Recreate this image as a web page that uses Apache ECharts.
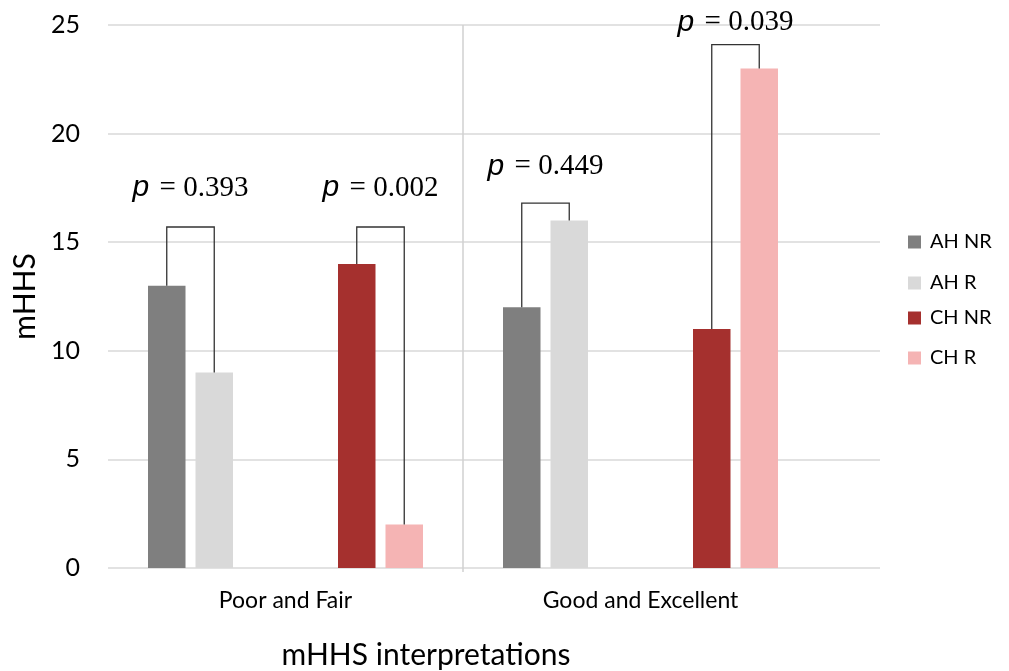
<!DOCTYPE html>
<html>
<head>
<meta charset="utf-8">
<script src="https://cdn.jsdelivr.net/npm/echarts@6/dist/echarts.min.js"></script>
<style>html,body{margin:0;padding:0;background:#fff;}#chart{width:1009px;height:671px;}</style>
</head>
<body>
<div id="chart"></div>
<script>
// ---- data ----
const categories = ['Poor and Fair', 'Good and Excellent'];
const seriesNames = ['AH NR', 'AH R', 'CH NR', 'CH R'];
const ahNR = [13, 12];
const ahR = [9, 16];
const chNR = [14, 11];
const chR = [2, 23];
const yMin = 0, yMax = 25, yInterval = 5;
const pValues = ['0.393', '0.002', '0.449', '0.039'];
const bracketCats = [0, 0, 1, 1];
const bracketTops = [15.7, 15.7, 16.8, 24.1];
const pLabelLevels = [17.5, 17.5, 18.5, 25.1];
const bracketLeft = [0, 2, 0, 2];   // series index
const bracketRight = [1, 3, 1, 3];

// ---- layout / style ----
const colors = ['#7f7f7f', '#d9d9d9', '#a5302e', '#f5b4b4'];
const BAR_W = 37.5, GAP = 10, STEP = BAR_W + GAP;
const slotOf = [0, 1, 4, 5]; // positions among 6 slots (2 empty slots in the middle)
const values = [ahNR, ahR, chNR, chR];
const FONT = 'Lato, "Open Sans", sans-serif';

const chart = echarts.init(document.getElementById('chart'));

const barSeries = [];
const order = [0, 1, null, null, 2, 3];
order.forEach((s, k) => {
  if (s === null) {
    barSeries.push({ type: 'bar', name: '_gap' + k, xAxisIndex: 1, yAxisIndex: 1,
      data: categories.map(() => '-'), barWidth: BAR_W, barGap: (GAP / BAR_W * 100) + '%', silent: true });
  } else {
    barSeries.push({ type: 'bar', name: seriesNames[s], xAxisIndex: 1, yAxisIndex: 1,
      data: values[s], barWidth: BAR_W, barGap: (GAP / BAR_W * 100) + '%',
      itemStyle: { color: colors[s] } });
  }
});

const bracketData = pValues.map((p, i) => {
  const c = bracketCats[i];
  return [c, bracketTops[i], values[bracketLeft[i]][c], values[bracketRight[i]][c],
          slotOf[bracketLeft[i]], slotOf[bracketRight[i]], pLabelLevels[i]];
});

const legendTops = [227, 268, 303, 343];
const legends = seriesNames.map((n, i) => ({
  data: [n], left: 903, top: legendTops[i], orient: 'vertical',
  icon: 'rect', itemWidth: 13, itemHeight: 13, itemGap: 8,
  textStyle: { fontSize: 20, color: '#000', fontFamily: FONT, padding: [0, 0, 0, 4] }, selectedMode: false
}));

chart.setOption({
  animation: false,
  legend: legends,
  grid: [
    { left: 108, right: 129, top: 25, bottom: 103, outerBoundsMode: 'none', containLabel: false },
    { left: 108, width: 710, top: 25, bottom: 103, outerBoundsMode: 'none', containLabel: false }
  ],
  xAxis: [
    { gridIndex: 0, type: 'value', show: false, min: 0, max: 1 },
    { gridIndex: 1, type: 'category', data: categories,
      axisLine: { show: false }, axisTick: { show: false }, splitLine: { show: false },
      axisLabel: { fontSize: 23, color: '#000', margin: 21, fontFamily: FONT },
      name: 'mHHS interpretations', nameLocation: 'middle', nameGap: 72,
      nameTextStyle: { fontSize: 30, color: '#000', fontFamily: FONT, padding: [0, 74, 0, 0] } }
  ],
  yAxis: [
    { gridIndex: 0, type: 'value', min: yMin, max: yMax, interval: yInterval,
      axisLine: { show: false }, axisTick: { show: false },
      splitLine: { lineStyle: { color: '#d9d9d9', width: 1.5 } },
      axisLabel: { fontSize: 25, color: '#000', margin: 28, fontFamily: FONT },
      name: 'mHHS', nameLocation: 'middle', nameGap: 66,
      nameTextStyle: { fontSize: 30, color: '#000', fontFamily: FONT } },
    { gridIndex: 1, type: 'value', min: yMin, max: yMax, interval: yInterval, show: false,
      splitLine: { show: false } }
  ],
  series: barSeries.concat([
    {
      type: 'custom', name: 'separator', xAxisIndex: 1, yAxisIndex: 1, silent: true, clip: false,
      data: [[0]],
      renderItem: function (params, api) {
        const c = api.coord([0, 0]);
        const half = api.size([1, 0])[0] / 2;
        const x = c[0] + half;
        return { type: 'line', shape: { x1: x, y1: params.coordSys.y, x2: x, y2: c[1] + 4 },
          style: { stroke: '#d0d0d0', lineWidth: 1.5 } };
      }
    },
    {
      type: 'custom', name: 'brackets', xAxisIndex: 1, yAxisIndex: 1, silent: true, clip: false, z: 5,
      data: bracketData,
      renderItem: function (params, api) {
        const cat = api.value(0);
        const center = api.coord([cat, 0]);
        const xl = center[0] + (api.value(4) - 2.5) * STEP;
        const xr = center[0] + (api.value(5) - 2.5) * STEP;
        const yTop = api.coord([cat, api.value(1)])[1];
        const yl = api.coord([cat, api.value(2)])[1];
        const yr = api.coord([cat, api.value(3)])[1];
        const yLab = api.coord([cat, api.value(6)])[1];
        return {
          type: 'group',
          children: [
            { type: 'polyline', shape: { points: [[xl, yl], [xl, yTop], [xr, yTop], [xr, yr]] },
              style: { stroke: '#333', lineWidth: 1.3, fill: null } },
            { type: 'text', x: (xl + xr) / 2, y: yLab,
              style: { text: '{p|p}{v| = ' + pValues[params.dataIndex] + '}', align: 'center', verticalAlign: 'middle',
                rich: {
                  p: { fontFamily: 'Liberation Sans, Arial, sans-serif', fontStyle: 'italic', fontSize: 30, fill: '#000', padding: [0, 3, 0, 0] },
                  v: { fontFamily: 'Liberation Serif, Times New Roman, serif', fontSize: 29, fill: '#000' }
                } } }
          ]
        };
      }
    }
  ])
});
</script>
</body>
</html>
